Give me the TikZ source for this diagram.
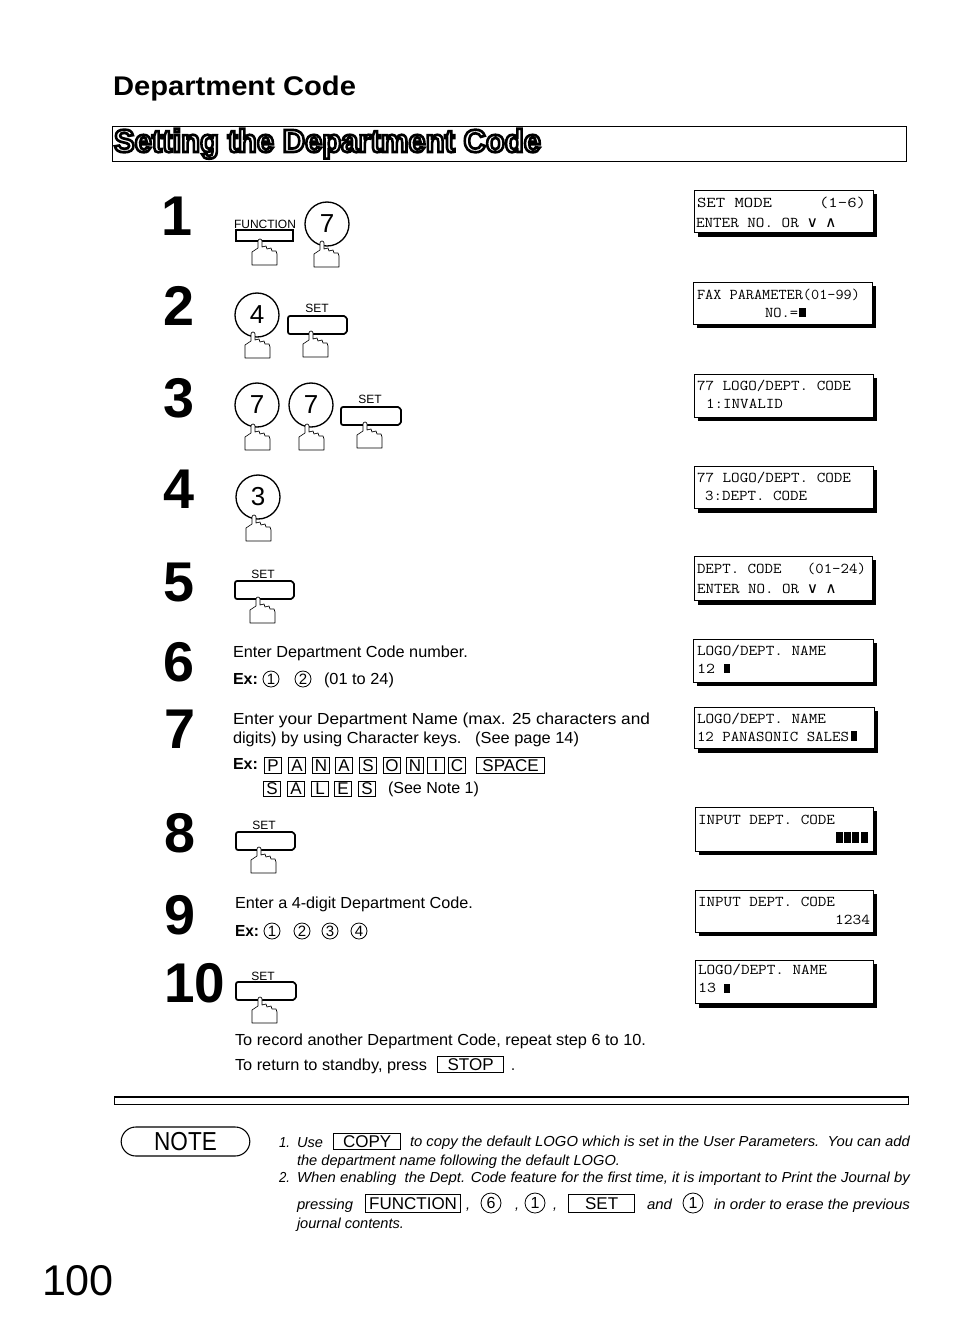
\documentclass[tikz,border=0pt]{standalone}
\usepackage{fontspec}
\usepackage{graphicx}
\setmainfont{Liberation Sans}
\newfontfamily\symfont{DejaVu Sans Mono}
\newlength{\pxu}\setlength{\pxu}{0.75pt}
\newcount\nid
\newcommand{\nextid}{\global\advance\nid by 1 }
\newcommand{\fs}[1]{\fontsize{#1\pxu}{#1\pxu}\selectfont}
% \TT{x}{baseline}{right x}{font}{text}: text fitted between x and right x
\newcommand{\TT}[5]{\nextid\pgfmathsetlengthmacro{\tw}{(#3-#1)*0.75pt}%
  \node[txt,name=t\the\nid] at (#1,#2) {\resizebox{\tw}{\height}{#4\strut #5}};}
\newcommand{\LCD}[5]{\nextid
  \draw[lcdshadow] (#1+4,#2+4) rectangle (#3+4,#5);
  \node[lcdbox,name=l\the\nid,anchor=north west,
        minimum width={(#3-#1)*0.75pt},minimum height={(#4-#2)*0.75pt}] at (#1,#2) {};}
\newcommand{\LL}[4]{\TT{#1}{#2}{#3}{\ttfamily\fs{15}}{#4}}
\newcommand{\blockat}[4]{\fill (#1,#2) rectangle (#3,#4);}
\newcommand{\KeyC}[3]{\nextid\node[bigkey,name=c\the\nid] at (#1,#2) {\fs{26}#3};}
\newcommand{\SmallC}[4][8]{\nextid\node[smallkey,name=c\the\nid,minimum size={2*#1*0.75pt}] at (#2,#3) {\fs{#4}};}
\newcommand{\SetKey}[4]{\nextid
  \draw[keyline,rounded corners=1.5pt] (#1,#2) -- (#3-5,#2) to[out=0,in=90] (#3,#2+5) -- (#3,#4-5) to[out=-90,in=0] (#3-5,#4) -- (#1,#4) -- cycle;}
\newcommand{\Lbl}[4]{\nextid\node[name=k\the\nid,inner sep=0pt] at (#1,#2) {\fs{#3}#4};}
\newcommand{\Hand}[2]{\pic at (#1,#2) {fingerhand};}
\newcommand{\Letter}[3]{\nextid\node[letterkey,name=k\the\nid] at (#1,#2) {\fs{17}#3};}
\newcommand{\Wide}[5]{\nextid\node[widekey,name=k\the\nid,anchor=north west,minimum width={(#3-#1)*0.75pt},minimum height={(#4-#2)*0.75pt}] at (#1,#2) {\fs{17}#5};}
\tikzset{
  x=0.75pt,y=-0.75pt,
  txt/.style={anchor=base west,inner sep=0pt,outer sep=0pt},
  lcdshadow/.style={fill=black,draw=none},
  lcdbox/.style={draw,fill=white,line width=0.9pt,inner sep=0pt},
  bigkey/.style={circle,draw,line width=1pt,minimum size=33pt,inner sep=0pt,fill=white},
  smallkey/.style={circle,draw,line width=0.6pt,inner sep=0pt},
  keyline/.style={line width=1.3pt,fill=white},
  letterkey/.style={draw,line width=0.8pt,minimum width=13pt,minimum height=11.5pt,inner sep=0pt},
  widekey/.style={draw,line width=0.9pt,inner sep=0pt},
  fingerhand/.pic={
    \draw[line width=0.5pt,fill=white,line join=round]
      (-2,1) to[out=90,in=180] (0,-1) to[out=0,in=90] (2,1) -- (2,7) -- (6,6) -- (7,9)
      -- (11,8) -- (12,11) -- (16,11) -- (17,14) -- (17,25) -- (-8,25) -- (-8,12) -- (-2,8) -- cycle;
  }
}
\begin{document}
\begin{tikzpicture}
\useasboundingbox[fill=white] (0,0) rectangle (954,1332);
% titles
\TT{113}{95}{356}{\bfseries\fs{27}}{Department Code}
\draw[line width=0.6pt] (112,126) rectangle (906,161);
\TT{114}{152}{541}{\bfseries\fs{32}}{\special{pdf:code q 2 Tr 2 w 1 1 1 rg 0 0 0 RG}Setting the Department Code\special{pdf:code Q}}
% step numbers
\TT{161}{235}{192}{\bfseries\fs{56}}{1}
\TT{163}{325}{194}{\bfseries\fs{56}}{2}
\TT{163}{417}{194}{\bfseries\fs{56}}{3}
\TT{163}{508}{194}{\bfseries\fs{56}}{4}
\TT{163}{601}{194}{\bfseries\fs{56}}{5}
\TT{163}{681}{194}{\bfseries\fs{56}}{6}
\TT{164}{748}{195}{\bfseries\fs{56}}{7}
\TT{164}{852}{195}{\bfseries\fs{56}}{8}
\TT{164}{934}{195}{\bfseries\fs{56}}{9}
\TT{164}{1002}{225}{\bfseries\fs{56}}{10}
% step 1
\Lbl{265}{224}{12}{FUNCTION}
\draw[keyline] (236,230) rectangle (293,241);
\KeyC{327}{224}{7}
\Hand{260}{240}\Hand{322}{242}
% step 2
\KeyC{257}{315}{4}
\Lbl{317}{308}{12}{SET}
\SetKey{288}{316}{347}{334}
\Hand{253}{333}\Hand{311}{332}
% step 3
\KeyC{257}{405}{7}\KeyC{311}{405}{7}
\Lbl{370}{399}{12}{SET}
\SetKey{341}{407}{401}{425}
\Hand{253}{425}\Hand{307}{425}\Hand{365}{423}
% step 4
\KeyC{258}{497}{3}
\Hand{254}{516}
% step 5
\Lbl{263}{574}{12}{SET}
\SetKey{235}{581}{294}{599}
\Hand{258}{598}
% step 6
\TT{233}{657}{468}{\fs{16}}{Enter Department Code number.}
\TT{233}{684}{258}{\bfseries\fs{16}}{Ex:}
\SmallC{271}{679}{15}\Lbl{271}{679}{15}{1}
\SmallC{303}{679}{15}\Lbl{303}{679}{15}{2}
\TT{324}{684}{394}{\fs{16}}{(01 to 24)}
% step 7
\TT{233}{724}{650}{\fs{16}}{Enter your Department Name (max. 25 characters and}
\TT{233}{743}{579}{\fs{16}}{digits) by using Character keys.~~~(See page 14)}
\TT{233}{769}{258}{\bfseries\fs{16}}{Ex:}
\Letter{273}{765.5}{P}\Letter{297}{765.5}{A}\Letter{321}{765.5}{N}\Letter{344}{765.5}{A}\Letter{368}{765.5}{S}
\Letter{392}{765.5}{O}\Letter{415}{765.5}{N}\Letter{436}{765.5}{I}\Letter{457}{765.5}{C}
\Wide{476}{757}{544}{773}{SPACE}
\Letter{272}{789}{S}\Letter{296}{789}{A}\Letter{320}{789}{L}\Letter{343}{789}{E}\Letter{367}{789}{S}
\TT{388}{793}{479}{\fs{16}}{(See Note 1)}
% step 8
\Lbl{264}{825}{12}{SET}
\SetKey{236}{832}{295}{850}
\Hand{259}{848}
% step 9
\TT{235}{908}{473}{\fs{16}}{Enter a 4-digit Department Code.}
\TT{235}{936}{259}{\bfseries\fs{16}}{Ex:}
\SmallC{272}{931}{15}\Lbl{272}{931}{15}{1}
\SmallC{302}{931}{15}\Lbl{302}{931}{15}{2}
\SmallC{330}{931}{15}\Lbl{330}{931}{15}{3}
\SmallC{359}{931}{15}\Lbl{359}{931}{15}{4}
% step 10
\Lbl{263}{976}{12}{SET}
\SetKey{236}{982}{296}{1000}
\Hand{260}{998}
\TT{235}{1045}{646}{\fs{16}}{To record another Department Code, repeat step 6 to 10.}
\TT{235}{1070}{427}{\fs{16}}{To return to standby, press}
\Wide{437}{1056}{503}{1072}{STOP}
\TT{511}{1070}{515}{\fs{16}}{.}
% LCD panels
\LCD{694}{190}{873}{232}{237}
\LL{697}{207}{866}{SET MODE~~~~~(1-6)}
\LL{696}{227}{836}{ENTER NO. OR {\symfont∨} {\symfont∧}}
\LCD{693}{282}{872}{324}{328}
\LL{697}{299}{860}{FAX PARAMETER(01-99)}
\LL{765}{317}{798}{NO.=}
\blockat{799}{308}{806}{317}
\LCD{694}{374}{873}{417}{421}
\LL{697}{390}{851}{77 LOGO/DEPT. CODE}
\LL{706}{408}{783}{1:INVALID}
\LCD{694}{466}{873}{508}{513}
\LL{697}{482}{851}{77 LOGO/DEPT. CODE}
\LL{705}{500}{807}{3:DEPT. CODE}
\LCD{694}{556}{872}{600}{605}
\LL{697}{573}{866}{DEPT. CODE~~~(01-24)}
\LL{697}{593}{836}{ENTER NO. OR {\symfont∨} {\symfont∧}}
\LCD{693}{639}{873}{682}{686}
\LL{697}{655}{826}{LOGO/DEPT. NAME}
\LL{697}{673}{715}{12}
\blockat{724}{664}{730}{673}
\LCD{694}{707}{874}{748}{753}
\LL{697}{723}{826}{LOGO/DEPT. NAME}
\LL{697}{741}{849}{12 PANASONIC SALES}
\blockat{851}{731}{857}{741}
\LCD{695}{807}{873}{851}{855}
\LL{698}{824}{835}{INPUT DEPT. CODE}
\blockat{836}{832}{843}{843}\blockat{844}{832}{851}{843}\blockat{852}{832}{859}{843}\blockat{861}{832}{868}{843}
\LCD{695}{890}{873}{932}{936}
\LL{698}{906}{835}{INPUT DEPT. CODE}
\LL{835}{924}{870}{1234}
\LCD{695}{960}{873}{1003}{1008}
\LL{698}{974}{827}{LOGO/DEPT. NAME}
\LL{698}{992}{716}{13}
\blockat{724}{984}{730}{993}
% rule
\draw[line width=0.5pt] (114,1096) rectangle (908,1104);
\fill (114,1095.5) rectangle (908,1097.5);
% note
\nextid\node[draw,rounded corners=11pt,line width=0.8pt,minimum width=96.5pt,minimum height=21.75pt,inner sep=0pt,name=note] at (185.5,1141.5) {\resizebox{47pt}{\height}{\fs{26}NOTE}};
\newcommand{\NN}[3]{\TT{#1}{#2}{#3}{\itshape\fs{14.5}}}
\NN{279}{1147}{290}{1.}
\NN{297}{1147}{323}{Use}
\Wide{333}{1133}{400}{1149}{COPY}
\NN{410}{1146}{910}{to copy the default LOGO which is set in the User Parameters.~~You can add}
\NN{297}{1165}{620}{the department name following the default LOGO.}
\NN{279}{1182}{290}{2.}
\NN{297}{1182}{910}{When enabling~~the Dept. Code feature for the first time, it is important to Print the Journal by}
\NN{297}{1209}{353}{pressing}
\Wide{365}{1194}{460}{1212}{FUNCTION}
\NN{466}{1209}{470}{,}
\SmallC[10]{491}{1203}{16}\Lbl{491}{1203}{16}{6}
\NN{515}{1209}{519}{,}
\SmallC[10]{535}{1203}{16}\Lbl{535}{1203}{16}{1}
\NN{553}{1209}{557}{,}
\Wide{568}{1194}{634}{1212}{SET}
\NN{647}{1209}{672}{and}
\SmallC[10]{693}{1203}{16}\Lbl{693}{1203}{16}{1}
\NN{714}{1209}{910}{in order to erase the previous}
\NN{297}{1228}{404}{journal contents.}
% page number
\TT{42}{1295}{114}{\fs{43}}{100}
\end{tikzpicture}
\end{document}
